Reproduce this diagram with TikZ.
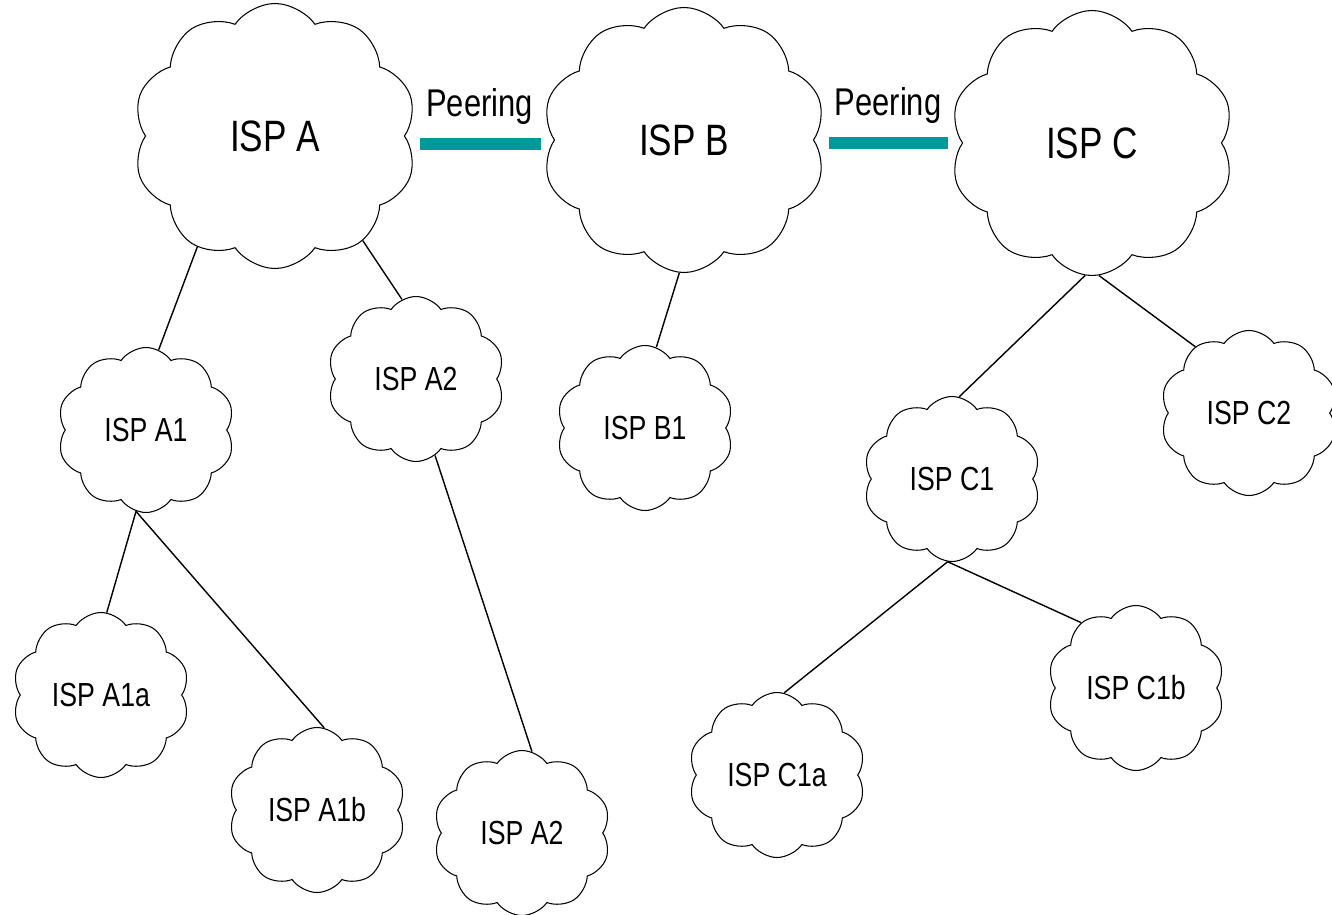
\documentclass[tikz,border=0pt]{standalone}
\usepackage{fontspec}
\setmainfont{Liberation Sans}
\usetikzlibrary{shapes.symbols}
\definecolor{peercol}{RGB}{0,153,153}
\newcommand{\tallt}[1]{\scalebox{1}[1.25]{#1}}
\begin{document}
\begin{tikzpicture}[line width=0.8pt,
  big cloud/.style={cloud,draw,line width=0.6pt,cloud puffs=10,cloud puff arc=110,minimum width=5.68cm,minimum height=5.3cm,inner sep=0pt,font=\fontsize{20}{24}\selectfont},
  small cloud/.style={cloud,draw,line width=0.6pt,cloud puffs=10,cloud puff arc=110,minimum width=3.54cm,minimum height=3.3cm,inner sep=0pt,font=\fontsize{15.2}{18}\selectfont},
  peering/.style={draw=peercol,line width=6.8pt},
  peer label/.style={font=\fontsize{17.6}{21}\selectfont,inner sep=0pt}]
\useasboundingbox (0,0) rectangle (26.64,-18.30);
% backbone clouds
\node [big cloud](ispA) at (5.50,-2.72) {\tallt{ISP A}};
\node [big cloud](ispB) at (13.68,-2.80) {\tallt{ISP B}};
\node [big cloud](ispC) at (21.84,-2.86) {\tallt{ISP C}};
% customers
\node [small cloud](ispAone) at (2.92,-8.60) {\tallt{ISP A1}};
\node [small cloud](ispAtwo) at (8.32,-7.58) {\tallt{ISP A2}};
\node [small cloud](ispBone) at (12.90,-8.56) {\tallt{ISP B1}};
\node [small cloud](ispCone) at (19.04,-9.58) {\tallt{ISP C1}};
\node [small cloud](ispCtwo) at (24.98,-8.26) {\tallt{ISP C2}};
\node [small cloud](ispAonea) at (2.02,-13.90) {\tallt{ISP A1a}};
\node [small cloud](ispAoneb) at (6.34,-16.20) {\tallt{ISP A1b}};
\node [small cloud](ispAtwob) at (10.44,-16.66) {\tallt{ISP A2}};
\node [small cloud](ispConea) at (15.54,-15.50) {\tallt{ISP C1a}};
\node [small cloud](ispConeb) at (22.72,-13.76) {\tallt{ISP C1b}};
% peering links
\draw [peering,shorten <=0.3cm,shorten >=0.26cm] ([yshift=-0.16cm]ispA.east) -- node[above=0.28cm,peer label] {\tallt{Peering}} ([yshift=-0.08cm]ispB.west);
\draw [peering,shorten <=0.3cm,shorten >=0.28cm] ([yshift=-0.06cm]ispB.east) -- node[above=0.28cm,peer label] {\tallt{Peering}} (ispC.west);
% transit links
\draw (ispA.235) -- (ispAone.81);
\draw (ispA.310) -- (ispAtwo.100);
\draw (ispAone.263) -- (ispAonea.86);
\draw (ispAone.263) -- (ispAoneb.85);
\draw (ispAtwo.284) -- (ispAtwob.83);
\draw (ispB.268) -- (ispBone.82);
\draw (ispC.267) -- (ispCone.85);
\draw (ispC.273) -- (ispCtwo.129);
\draw (ispCone.267) -- (ispConea.85);
\draw (ispCone.267) -- (ispConeb.130);
\end{tikzpicture}
\end{document}
